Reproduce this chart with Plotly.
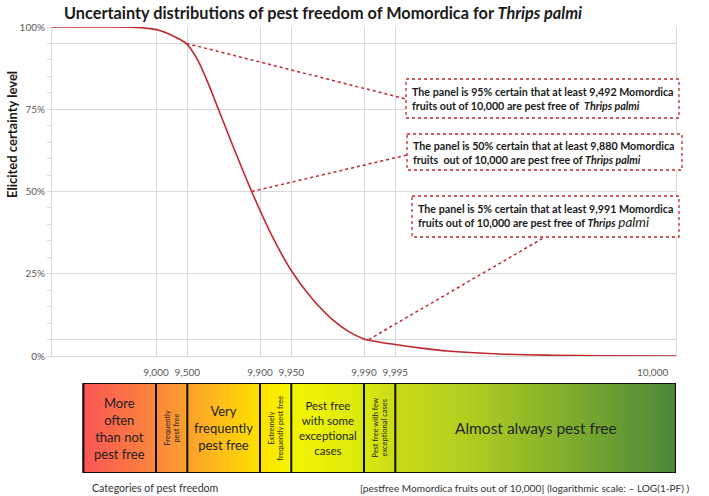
import numpy as np
import plotly.graph_objects as go

# ---------------- data ----------------
# x: -log10(1-PF), y: elicited certainty level (%)
curve_x = [0.0, 0.5, 0.8, 0.95, 1.05, 1.15, 1.29, 1.4, 1.5, 1.6, 1.75, 1.92,
           2.1, 2.3, 2.5, 2.7, 2.85, 3.0, 3.15, 3.3, 3.55, 3.8, 4.3, 4.8, 5.3, 6.0]
curve_y = [100, 100, 99.9, 99.5, 98.8, 97.5, 95, 90, 83, 75, 63, 50,
           37.5, 26, 17.5, 11, 7.5, 5.2, 4.2, 3.5, 2.4, 1.5, 0.6, 0.25, 0.08, 0]

tick_counts = [9000, 9500, 9900, 9950, 9990, 9995]
tick_text = ["9,000", "9,500", "9,900", "9,950", "9,990", "9,995"]

cert_levels = [95, 50, 5]
pf_counts = [9492, 9880, 9991]

cat_bounds = [5000, 9000, 9500, 9900, 9950, 9990, 9995]
cat_labels = [
    "More<br>often<br>than not<br>pest free",
    "Frequently<br>pest free",
    "Very<br>frequently<br>pest free",
    "Extremely<br>frequently pest free",
    "Pest free<br>with some<br>exceptional<br>cases",
    "Pest free with few<br>exceptional cases",
    "Almost always pest free",
]
cat_rotated = [False, True, False, True, False, True, False]
cat_fsize = [13, 7.5, 13, 7.5, 11.5, 7.5, 15.5]

box_texts = [
    "<b>The panel is 95% certain that at least 9,492 Momordica<br>fruits out of 10,000 are pest free of  <i>Thrips palmi</i></b>",
    "<b>The panel is 50% certain that at least 9,880 Momordica<br>fruits  out of 10,000 are pest free of <i>Thrips palmi</i></b>",
    "<b>The panel is 5% certain that at least 9,991 Momordica<br>fruits out of 10,000 are pest free of <i>Thrips</i></b> <span style='font-size:13.5px'><i>palmi</i></span>",
]

XMAX = 6.0
def to_x(n):
    return -np.log10(1 - np.array(n, dtype=float) / 10000.0)

tick_vals = list(to_x(tick_counts))
pt_x = list(to_x(pf_counts))
edges = list(to_x(cat_bounds)) + [XMAX]

# ---------------- layout geometry ----------------
W, H = 709, 496
PL, PR, PT, PB = 52, 676, 27, 356       # plot area in pixels
BAR_T, BAR_B = 383, 473                  # category bar in pixels
L, T = PL, PT
R = W - PR
B = H - BAR_B
PW = PR - PL
PH = BAR_B - PT

def px2paper_x(px):
    return (px - PL) / PW
def px2paper_y(py):
    return (BAR_B - py) / PH

ydom = [px2paper_y(PB), 1.0]
y2dom = [0.0, px2paper_y(BAR_T)]

fig = go.Figure()

# gradient bar (styling) via heatmap
g_edges = np.linspace(edges[0], XMAX, 301)
g_cent = (g_edges[:-1] + g_edges[1:]) / 2
stops_x = [edges[0], 1.0, 1.301, 2.0, 2.301, 3.0, 3.301, 4.0, 5.0, XMAX]
stops_c = ["rgb(250,85,85)", "rgb(250,135,60)", "rgb(250,160,45)", "rgb(255,225,0)",
           "rgb(245,245,0)", "rgb(218,232,15)", "rgb(202,219,25)", "rgb(176,205,32)",
           "rgb(125,172,45)", "rgb(75,135,60)"]
cs = [[(sx - edges[0]) / (XMAX - edges[0]), c] for sx, c in zip(stops_x, stops_c)]
fig.add_trace(go.Heatmap(x=g_edges, y=[0, 1], z=[g_cent], colorscale=cs,
                         zmin=edges[0], zmax=XMAX, showscale=False,
                         xaxis="x", yaxis="y2", hoverinfo="skip"))

# curve
fig.add_trace(go.Scatter(x=curve_x, y=curve_y, mode="lines",
                         line=dict(color="#c0282d", width=1.6, shape="spline", smoothing=0.8),
                         cliponaxis=False, showlegend=False, hoverinfo="skip"))

shapes = []
shapes.append(dict(type="line", xref="paper", yref="y", x0=0, x1=1, y0=50, y1=50,
                   line=dict(color="#a0a0a0", width=1.2), layer="below"))
for e in edges[1:-1]:
    shapes.append(dict(type="line", xref="x", yref="y2", x0=e, x1=e, y0=0, y1=1,
                       line=dict(color="#111", width=2)))
shapes.append(dict(type="rect", xref="x", yref="y2", x0=edges[0], x1=XMAX, y0=0, y1=1,
                   line=dict(color="#111", width=2.2)))

boxes_px = [(406, 79, 679, 118), (407, 134, 682, 170), (412, 196, 679, 237)]
text_left_px = [410, 411, 416]
conn_end_px = [(406, 99), (407, 155), (545, 237)]

annotations = []
for (x0, y0, x1, y1), tl, txt in zip(boxes_px, text_left_px, box_texts):
    shapes.append(dict(type="rect", xref="paper", yref="paper",
                       x0=px2paper_x(x0), x1=px2paper_x(x1),
                       y0=px2paper_y(y0), y1=px2paper_y(y1),
                       fillcolor="white", line=dict(color="#c0282d", width=1.3, dash="dot")))
    annotations.append(dict(xref="paper", yref="paper", x=px2paper_x(tl),
                            y=px2paper_y((y0 + y1) / 2), xanchor="left", yanchor="middle",
                            align="left", showarrow=False, text=txt,
                            font=dict(size=10.7, color="#1a1a1a", family="Lato")))

for cx, cy, (ex, ey) in zip(pt_x, cert_levels, conn_end_px):
    shapes.append(dict(type="line", xref="x", yref="y",
                       x0=cx, y0=cy, x1=(ex - PL) / PW * XMAX,
                       y1=(PB - ey) / (PB - PT) * 100,
                       line=dict(color="#c0282d", width=1.5, dash="dot")))

for i, lab in enumerate(cat_labels):
    cx = (edges[i] + edges[i + 1]) / 2
    annotations.append(dict(xref="x", yref="y2", x=cx, y=0.5, text=lab, showarrow=False,
                            textangle=-90 if cat_rotated[i] else 0,
                            font=dict(size=cat_fsize[i], color="#1f1f1f", family="Lato")))

annotations.append(dict(xref="paper", yref="paper", x=px2paper_x(62), y=px2paper_y(12),
                        xanchor="left", yanchor="middle", showarrow=False,
                        text="<b>Uncertainty distributions of pest freedom of Momordica for <i>Thrips palmi</i></b>",
                        font=dict(size=16.3, color="#1a1a1a", family="Lato")))
annotations.append(dict(xref="paper", yref="paper", x=px2paper_x(12), y=px2paper_y(135),
                        xanchor="center", yanchor="middle", showarrow=False, textangle=-90,
                        text="<b>Elicited certainty level</b>",
                        font=dict(size=13, color="#1a1a1a", family="Lato")))
annotations.append(dict(xref="x", yref="paper", x=5.77, y=px2paper_y(372),
                        xanchor="center", yanchor="middle", showarrow=False, text="10,000",
                        font=dict(size=10, color="#595959", family="Lato")))
annotations.append(dict(xref="paper", yref="paper", x=px2paper_x(90), y=px2paper_y(488),
                        xanchor="left", yanchor="middle", showarrow=False,
                        text="Categories of pest freedom",
                        font=dict(size=10.6, color="#333", family="Lato")))
annotations.append(dict(xref="paper", yref="paper", x=px2paper_x(358), y=px2paper_y(488),
                        xanchor="left", yanchor="middle", showarrow=False,
                        text="[pestfree Momordica fruits out of 10,000] (logarithmic scale: \u2013 LOG(1-PF) )",
                        font=dict(size=10.1, color="#333", family="Lato")))

fig.update_layout(
    width=W, height=H, margin=dict(l=L, r=R, t=T, b=B),
    paper_bgcolor="white", plot_bgcolor="white", showlegend=False,
    font=dict(family="Lato", color="#595959"),
    xaxis=dict(domain=[0, 1], range=[0, XMAX], anchor="y", tickvals=tick_vals, ticktext=tick_text,
               showgrid=True, gridcolor="#d9d9d9", gridwidth=1, zeroline=False,
               showline=True, linecolor="#d9d9d9", mirror=False, ticks="",
               ticklabelstandoff=7, tickfont=dict(size=10, color="#595959")),
    yaxis=dict(domain=ydom, range=[0, 100], anchor="x",
               tickvals=[0, 5, 25, 50, 75, 95, 100], ticktext=["0%", "", "25%", "50%", "75%", "", "100%"],
               showgrid=True, gridcolor="#d9d9d9", gridwidth=1, zeroline=False,
               showline=True, linecolor="#d9d9d9", mirror=True,
               ticks="outside", ticklen=4, tickcolor="#d9d9d9",
               minor=dict(dtick=5, ticks="outside", ticklen=4, tickcolor="#d9d9d9", showgrid=False),
               tickfont=dict(size=10, color="#595959")),
    yaxis2=dict(domain=y2dom, range=[0, 1], anchor="x", showgrid=False, zeroline=False,
                showticklabels=False, ticks="", showline=False),
    shapes=shapes, annotations=annotations,
)

fig.write_html("out.html", config={"displayModeBar": False},
               post_script="document.body.style.margin='0';document.body.style.overflow='hidden';")
